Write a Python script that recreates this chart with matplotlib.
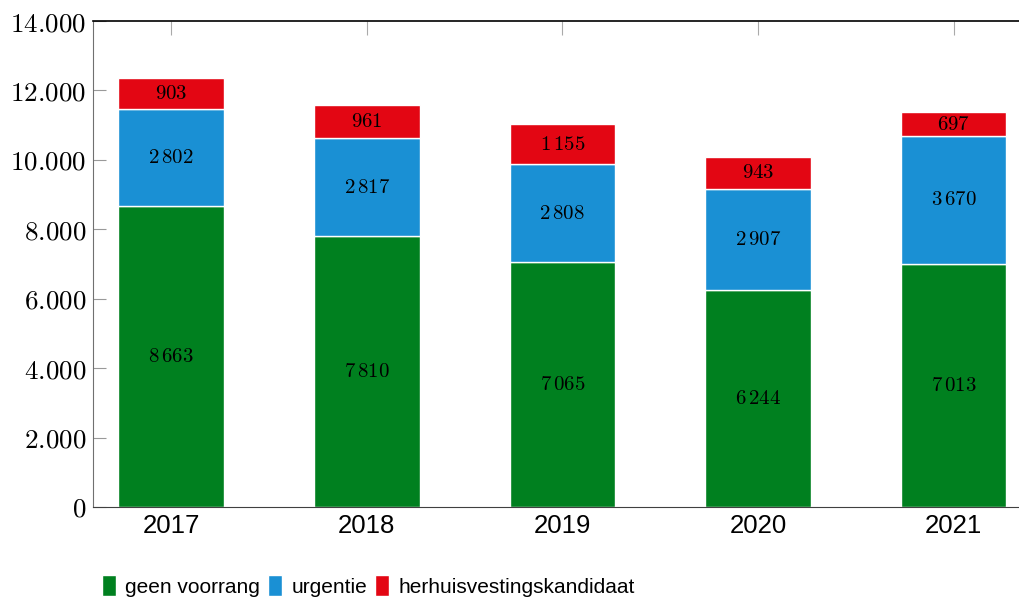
import matplotlib
matplotlib.use("Agg")
import matplotlib.pyplot as plt
import numpy as np

plt.rcParams["mathtext.fontset"] = "cm"
plt.rcParams["font.family"] = ["Liberation Sans", "DejaVu Sans"]

# Data
years = ["2017", "2018", "2019", "2020", "2021"]
geen_voorrang = [8663, 7810, 7065, 6244, 7013]
urgentie = [2802, 2817, 2808, 2907, 3670]
herhuisvesting = [903, 961, 1155, 943, 697]
y_ticks = [0, 2000, 4000, 6000, 8000, 10000, 12000, 14000]

series = [
    ("geen voorrang", geen_voorrang, "#00801f"),
    ("urgentie", urgentie, "#1a90d4"),
    ("herhuisvestingskandidaat", herhuisvesting, "#e30613"),
]


def nl_thousands(v, sep):
    s = f"{v:,}".replace(",", sep)
    return s


fig = plt.figure(figsize=(10.2, 5.99), dpi=100)
ax = fig.add_axes([0.0912, 0.1536, 0.9088, 0.8113])

x = np.arange(len(years))
bottom = np.zeros(len(years))
for name, vals, color in series:
    vals = np.array(vals)
    ax.bar(x, vals, width=0.54, bottom=bottom, color=color,
           edgecolor="white", linewidth=1.0, label=name, zorder=2)
    for xi, b, v in zip(x, bottom, vals):
        ax.text(xi, b + v / 2, "$" + nl_thousands(v, r"\,") + "$",
                ha="center", va="center", fontsize=15, zorder=3)
    bottom += vals

ax.set_xlim(-0.4, 4.34)
ax.set_ylim(0, 14000)
ax.set_yticks(y_ticks)
ax.set_yticklabels(["$" + nl_thousands(v, ".") + "$" for v in y_ticks], fontsize=19.5)
ax.set_xticks(x)
ax.set_xticklabels(years, fontsize=18.5)

ax.spines["right"].set_visible(False)
ax.spines["top"].set_color("black")
ax.spines["top"].set_linewidth(1.2)
ax.spines["bottom"].set_color("#404040")
ax.spines["left"].set_color("#707070")
ax.tick_params(axis="y", direction="in", length=9, color="#999999", pad=5)
ax.tick_params(axis="x", direction="in", length=10, color="#aaaaaa",
               top=True, bottom=False, pad=5)

fig.legend(loc="lower left", bbox_to_anchor=(0.088, -0.017), ncol=3,
           frameon=False, fontsize=15, handlelength=0.65, handleheight=1.2,
           handletextpad=0.45, columnspacing=0.4, borderaxespad=0.2)

fig.savefig("out.png", dpi=100)
